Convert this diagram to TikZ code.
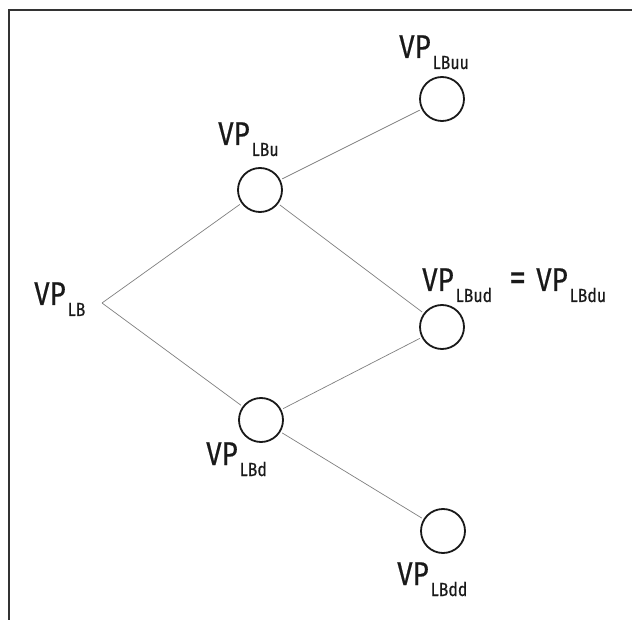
\documentclass[tikz,border=0pt]{standalone}
\usepackage{fontspec}
\setmainfont{Fira Sans}[FakeStretch=0.84, FakeBold=0.4]
\newcommand{\vplab}[1]{VP\kern2pt\raisebox{-11pt}{\fontsize{19}{19}\selectfont #1}}
\tikzset{
  lbl/.style={inner sep=0pt, anchor=base west, font=\fontsize{33}{33}\selectfont, text=black!90},
  vc/.style={circle, draw=black!90, line width=1.8pt, minimum size=44pt, inner sep=0pt},
  edge/.style={draw=black!50, line width=0.7pt, shorten >=2pt},
  frame/.style={draw=black!80, line width=1.2pt}
}
\begin{document}
\begin{tikzpicture}[x=1pt,y=-1pt]
\useasboundingbox (0,0) rectangle (632,620);
\fill[white] (0,0) rectangle (632,620);
% frame
\coordinate (fbl) at (9,620);
\coordinate (ftl) at (9,10);
\coordinate (ftr) at (632,10);
\draw[frame] (fbl) -- (ftl) -- (ftr);
% circles
\node[vc] (u) at (260,190) {};
\node[vc] (d) at (261,420) {};
\node[vc] (uu) at (442,99) {};
\node[vc] (ud) at (442,327) {};
\node[vc] (dd) at (443,531) {};
\coordinate (lb) at (102,303);
% connectors
\draw[edge] (lb) -- (u);
\draw[edge] (lb) -- (d);
\draw[edge, shorten <=2pt] (u) -- (uu);
\draw[edge, shorten <=2pt] (u) -- (ud);
\draw[edge, shorten <=2pt] (d) -- (ud);
\draw[edge, shorten <=2pt] (d) -- (dd);
% labels
\node[lbl] (tLB) at (34,305) {\vplab{LB}};
\node[lbl] (tLBu) at (218,145) {\vplab{LBu}};
\node[lbl] (tLBuu) at (399,58) {\vplab{LBuu}};
\node[lbl] (tLBud) at (422,291) {\vplab{LBud}};
\node[lbl, font=\fontsize{40}{40}\selectfont] (teq) at (509,291) {=};
\node[lbl] (tLBdu) at (536,291) {\vplab{LBdu}};
\node[lbl] (tLBd) at (206,465) {\vplab{LBd}};
\node[lbl] (tLBdd) at (397,585) {\vplab{LBdd}};
\end{tikzpicture}
\end{document}
